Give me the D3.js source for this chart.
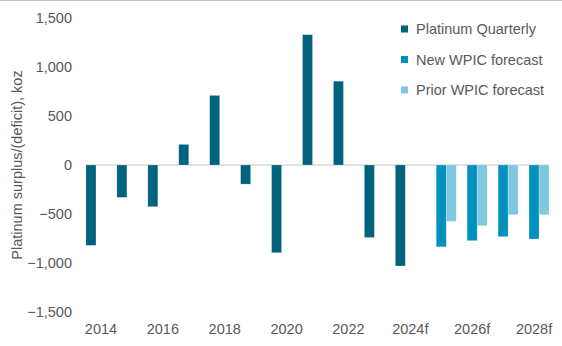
<!DOCTYPE html>
<html>
<head>
<meta charset="utf-8">
<script src="https://cdn.jsdelivr.net/npm/d3@7"></script>
<style>
  html, body { margin: 0; padding: 0; background: #fff; }
  svg { display: block; font-family: "Liberation Sans", Arial, sans-serif; }
</style>
</head>
<body>
<svg id="chart" width="562" height="346"></svg>
<script>
// Annual platinum market balance, koz
const years = ["2014", "2015", "2016", "2017", "2018", "2019", "2020", "2021", "2022", "2023",
               "2024f", "2025f", "2026f", "2027f", "2028f"];
const tickYears = ["2014", "2016", "2018", "2020", "2022", "2024f", "2026f", "2028f"];
const platinumQuarterly = [-820, -330, -425, 210, 710, -195, -895, 1330, 855, -740, -1030, null, null, null, null];
const newForecast = [null, null, null, null, null, null, null, null, null, null, null, -835, -772, -731, -755];
const priorForecast = [null, null, null, null, null, null, null, null, null, null, null, -575, -619, -507, -507];
const yTicks = [-1500, -1000, -500, 0, 500, 1000, 1500];

const seriesNames = ["Platinum Quarterly", "New WPIC forecast", "Prior WPIC forecast"];
const seriesValues = [platinumQuarterly, newForecast, priorForecast];
const seriesColors = ["#00627d", "#0092bd", "#80c8de"];
const textColor = "#595959";
const fontSize = "14.5px";

const svg = d3.select("#chart");

// frame line along the top
svg.append("line")
  .attr("x1", 0).attr("x2", 562).attr("y1", 0.5).attr("y2", 0.5)
  .attr("stroke", "#bfbfbf").attr("stroke-width", 1);

const x = d3.scaleBand().domain(years).range([85.5, 549.5]).paddingInner(0).paddingOuter(0);
const xs = d3.scaleBand().domain(seriesNames).range([0, x.bandwidth()]).paddingInner(0).paddingOuter(0.0465);
const y = d3.scaleLinear().domain([-1500, 1500]).range([312, 18]);

// y axis labels
const yAxis = d3.axisLeft(y)
  .tickValues(yTicks)
  .tickFormat(d3.format(","))
  .tickSize(0)
  .tickPadding(0);
const yg = svg.append("g").attr("transform", "translate(72,0)").call(yAxis);
yg.select(".domain").remove();
yg.selectAll("text")
  .attr("fill", textColor)
  .style("font-size", fontSize)
  .style("font-family", "'Liberation Sans', Arial, sans-serif");

// x axis labels (every second year)
const xAxis = d3.axisBottom(x)
  .tickValues(tickYears)
  .tickSize(0)
  .tickPadding(0);
const xg = svg.append("g").attr("transform", "translate(0,324)").call(xAxis);
xg.select(".domain").remove();
xg.selectAll("text")
  .attr("fill", textColor)
  .attr("dy", "0.71em")
  .style("font-size", fontSize)
  .style("font-family", "'Liberation Sans', Arial, sans-serif");

// zero baseline
svg.append("line")
  .attr("x1", x.range()[0]).attr("x2", x.range()[1])
  .attr("y1", y(0)).attr("y2", y(0))
  .attr("stroke", "#d9d9d9").attr("stroke-width", 1.5);

// bars
seriesNames.forEach((name, si) => {
  const data = years.map((yr, i) => ({ yr, v: seriesValues[si][i] })).filter(d => d.v !== null);
  svg.append("g")
    .selectAll("rect")
    .data(data)
    .join("rect")
    .attr("x", d => x(d.yr) + xs(name))
    .attr("width", xs.bandwidth())
    .attr("y", d => Math.min(y(0), y(d.v)))
    .attr("height", d => Math.abs(y(d.v) - y(0)))
    .attr("fill", seriesColors[si])
    .attr("stroke", "#ffffff")
    .attr("stroke-opacity", 0.35)
    .attr("stroke-width", 0.6);
});

// y axis title
svg.append("text")
  .attr("transform", `translate(22,${y(0)}) rotate(-90)`)
  .attr("text-anchor", "middle")
  .attr("fill", textColor)
  .style("font-size", fontSize)
  .text("Platinum surplus/(deficit), koz");

// legend
const legend = svg.append("g").attr("transform", "translate(401,29)");
seriesNames.forEach((name, i) => {
  const row = legend.append("g").attr("transform", `translate(0,${i * 30.5})`);
  row.append("rect")
    .attr("x", 0).attr("y", -3.5)
    .attr("width", 7).attr("height", 7)
    .attr("fill", seriesColors[i]);
  row.append("text")
    .attr("x", 15).attr("y", 0).attr("dy", "0.35em")
    .attr("fill", textColor)
    .style("font-size", fontSize)
    .text(name);
});
</script>
</body>
</html>
